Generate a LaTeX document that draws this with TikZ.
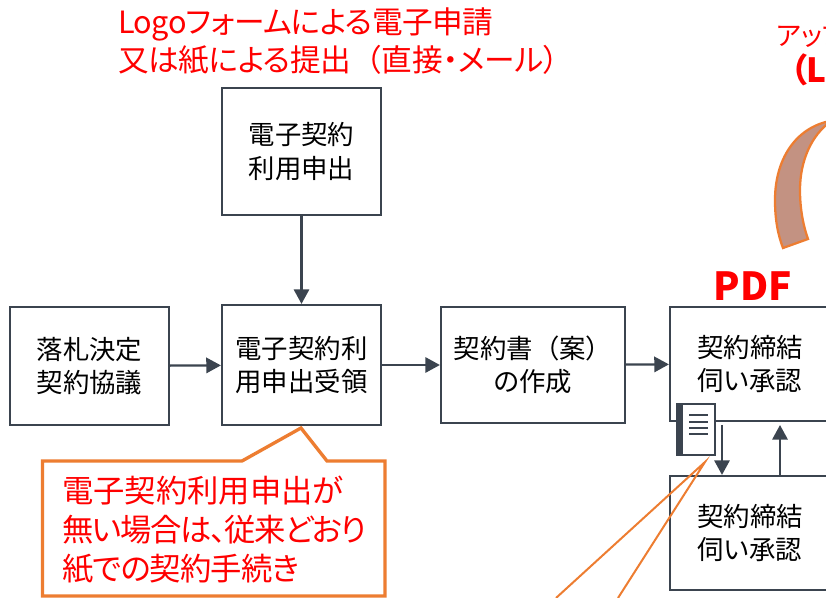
\documentclass[tikz,border=0pt]{standalone}
\usepackage{fontspec}
\setmainfont[RawFeature=+palt]{Noto Sans CJK JP}
\newfontfamily\cjkfull{Noto Sans CJK JP}
\usetikzlibrary{arrows.meta}
\definecolor{linedark}{HTML}{3B444F}
\definecolor{calloutorange}{HTML}{ED7D31}
\definecolor{arcbrown}{HTML}{C39282}

\begin{document}
\begin{tikzpicture}[x=.75pt,y=-.75pt,
flowblock/.style={draw=linedark,rectangle,line width=1.6pt,inner sep=0pt,align=center,font=\fontsize{19.8}{25}\selectfont},
redtext/.style={text=red,inner sep=0pt,align=left,font=\fontsize{23}{28.5}\selectfont},
flow/.style={draw=linedark,line width=1.7pt,-{Triangle[length=11pt,width=11.5pt]}},
calloutline/.style={draw=calloutorange,line width=2.5pt,line join=miter}]

\useasboundingbox (0,0) rectangle (826,598);
\clip (0,0) rectangle (826,598);

% top labels
\node[redtext,anchor=north west] (formnote) at (118,7) {{\addfontfeature{LetterSpace=-2}Logoフォームによる電子申請}\\{\addfontfeature{LetterSpace=-1.6}又は紙による提出}{\cjkfull （}直接・メール）};
\node[text=red,inner sep=0pt,anchor=west,font=\fontsize{20}{24}\selectfont] (uploadnote) at (776,35) {アップ};
\node[text=red,inner sep=0pt,anchor=west,font=\fontsize{25}{28}\bfseries\selectfont] (lnote) at (790,70) {（L};
\node[text=red,inner sep=0pt,font=\fontsize{29}{32}\bfseries\selectfont] (pdfnote) at (753,286) {PDF};

% curved arrow body
\draw[calloutline,fill=arcbrown,line width=1.7pt] (830,121) .. controls (795,128) and (775,160) .. (775,200)
  .. controls (775,220) and (778,235) .. (783,248) -- (808,239)
  .. controls (802,222) and (800,205) .. (800,190) .. controls (800,160) and (812,135) .. (830,122) -- cycle;

% flow boxes
\node[flowblock,minimum width=119.25pt,minimum height=95.25pt] (request) at (301.5,151.5) {電子契約\\利用申出};
\node[flowblock,minimum width=119.25pt,minimum height=88.5pt] (award) at (89.5,366) {落札決定\\契約協議};
\node[flowblock,minimum width=119.25pt,minimum height=90pt] (receipt) at (301.5,365) {電子契約利\\用申出受領};
\node[flowblock,minimum width=138pt,minimum height=87pt] (draft) at (533,365) {契約書{\cjkfull （}案{\cjkfull ）}\\の作成};
\node[flowblock,minimum width=120pt,minimum height=85.5pt] (approve) at (750,364) {契約締結\\伺い承認};
\node[flowblock,minimum width=120pt,minimum height=85.5pt] (approvetwo) at (750,533) {契約締結\\伺い承認};

\draw[flow] (request) -- (receipt);
\draw[flow] (award) -- (receipt);
\draw[flow] (receipt) -- (draft);
\draw[flow] (draft) -- (approve);

\coordinate (downtop) at (722,425);
\coordinate (uptop) at (780,425);
\draw[flow] (downtop) -- (downtop |- approvetwo.north);
\draw[flow] (uptop |- approvetwo.north) -- (uptop);

% document icon
\node[draw=linedark,fill=white,line width=1.5pt,minimum width=29pt,minimum height=38.5pt,inner sep=0pt] (docicon) at (696,429.5) {};
\fill[linedark] (docicon.north west) rectangle ([xshift=5.5pt]docicon.south west);
\foreach \liney in {415,422,428,434}
  \draw[linedark,line width=1pt] (689,\liney) -- (708,\liney);

% callout below receipt
\coordinate (tipa) at (301,428);
\draw[calloutline,fill=white] (42.5,461) -- (242,461) -- (tipa) -- (327,461) -- (385,461) -- (385,596) -- (42.5,596) -- cycle;
\node[redtext,anchor=north west,font=\fontsize{23.5}{29}\selectfont] (papernote) at (62,476) {電子契約利用申出が\\{\addfontfeature{LetterSpace=-4.4}無い場合は、従来どおり}\\{\addfontfeature{LetterSpace=-3}紙での契約手続き}};

% lines of the off-page callout
\coordinate (tipb) at (705,462);
\coordinate (offa) at (556,598);
\coordinate (offb) at (618,598);
\draw[calloutorange,line width=1.5pt] (offa) -- (tipb) -- (offb);
\end{tikzpicture}
\end{document}
